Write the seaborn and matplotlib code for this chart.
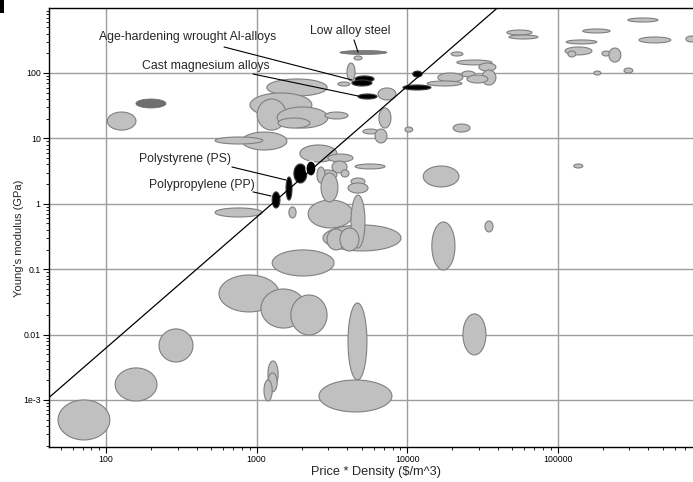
import numpy as np
import matplotlib
matplotlib.use("Agg")
import matplotlib.pyplot as plt
import matplotlib.ticker as mticker
from matplotlib.patches import Rectangle
import seaborn as sns

# property ranges of each material family
# price * density in $/m^3, Young's modulus in GPa
price_lo = [48.0, 115, 225, 1190, 1190, 1120, 563, 1070, 1690, 1270,
            4050, 2600, 23500, 14600, 12800, 32900, 128000,
            158, 102, 1170, 905, 1010, 1370, 1390, 2850, 801, 530,
            3990, 3470, 3580, 4440, 6410,
            19600, 21400, 30000, 31400, 23100, 25000, 16000, 13600,
            46000, 47500, 293000, 147000, 114000, 112000, 117000, 197000,
            219000, 347000, 711000, 174000, 276000,
            6500, 5090, 6120, 9680, 20200, 530, 1640,
            2200, 2760, 2940, 4240, 3580,
            1940, 2980, 3170, 4510, 3640, 2560, 2520, 2680, 4240, 4050,
            4510, 4300, 4720, 10900, 9390,
            1270, 1570, 1770, 2130]
price_hi = [106, 218, 378, 1390, 1370, 1270, 1410, 2130, 2940, 3270,
            5410, 7930, 33400, 20800, 22100, 37200, 147000,
            250, 158, 2940, 2330, 1570, 2980, 2260, 4050, 1590, 1100,
            4510, 4170, 7350, 5020, 8430,
            23500, 36600, 38900, 38900, 28200, 34400, 23500, 23100,
            67500, 74000, 464000, 223000, 182000, 169000, 132000, 223000,
            263000, 565000, 855000, 194000, 316000,
            7810, 6410, 7350, 10900, 26200, 1090, 1830,
            4370, 9110, 3870, 5250, 4790,
            3420, 4370, 3990, 7130, 4110, 3420, 2850, 3470, 5250, 5500,
            6030, 5840, 6310, 12600, 14400,
            1430, 1720, 2160, 2480]
modulus_lo = [2.45e-4, 9.65e-4, 3.81e-3, 1.58e-3, 1.33e-3, 9.65e-4, 0.0222, 0.0126, 9.86e-3, 0.0787,
              2.02e-3, 6.56e-4, 4.88e-3, 0.0972, 1.81, 0.371, 3.53,
              29.2, 13.4, 44.5, 21.3, 13.4, 14.4, 14.4, 19.8, 6.65, 8.21,
              75.5, 63.3, 192, 158, 38.7,
              182, 133, 107, 65.5, 86.9, 70.3, 72.8, 63.3,
              381, 331, 602, 409, 278, 189, 176, 182,
              147, 288, 298, 93.2, 100,
              14.4, 11.7, 8.51, 12.5, 12.5, 0.628, 0.607,
              0.427, 0.190, 0.197, 0.211, 0.190,
              4.36, 4.36, 2.96, 3.41, 2.57, 2.31, 2.08, 1.07, 1.94, 1.46,
              72.8, 63.3, 40.0, 86.9, 55.0,
              0.863, 1.14, 2.08, 2.66]
modulus_hi = [1.0e-3, 3.09e-3, 0.0122, 3.95e-3, 2.59e-3, 2.02e-3, 0.0815, 0.0498, 0.0403, 0.197,
              0.0304, 2.02e-3, 0.0207, 0.527, 3.78, 0.546, 4.06,
              40.0, 25.3, 81.0, 49.5, 40.0, 30.2, 20.5, 25.3, 12.5, 10.5,
              142, 72.8, 221, 182, 59.0,
              210, 158, 142, 111, 107, 93.2, 100, 75.5,
              454, 381, 693, 471, 320, 250, 217, 217,
              241, 355, 368, 107, 119,
              29.2, 13.9, 13.9, 14.9, 16.6, 0.863, 0.894,
              1.14, 0.474, 0.412, 1.36, 0.427,
              7.93, 5.77, 4.51, 4.06, 3.29, 3.29, 3.65, 2.96, 2.48, 2.08,
              90.0, 78.2, 47.7, 107, 65.5,
              1.52, 2.57, 4.06, 4.51]
group = (['other'] * 17
         + ['dark'] + ['other'] * 9
         + ['other', 'other', 'steel', 'other', 'other']
         + ['other'] * 8
         + ['other'] * 13
         + ['other'] * 7
         + ['other'] * 5
         + ['other'] * 10
         + ['selected'] * 5
         + ['selected'] * 3 + ['selected_w'])

# performance index guide line: E = c * (price*density)^2
guide_x = np.array([30.0, 1.0e5])
guide_c = 6.24e-7

x_ticks = [100, 1000, 10000, 100000]
x_tick_labels = ['100', '1000', '10000', '100000']
y_ticks = [1e-3, 0.01, 0.1, 1, 10, 100]
y_tick_labels = ['1e-3', '0.01', '0.1', '1', '10', '100']

styles = {
    'other': dict(facecolor='#c0c0c0', edgecolor='#7f7f7f', lw=0.8),
    'dark': dict(facecolor='#6e6e6e', edgecolor='#6e6e6e', lw=0.6),
    'steel': dict(facecolor='#7c7c7c', edgecolor='#6a6a6a', lw=0.5),
    'selected': dict(facecolor='#000000', edgecolor='#3a3a3a', lw=0.8),
    'selected_w': dict(facecolor='#000000', edgecolor='#ffffff', lw=0.9),
}

sns.set_style('ticks')
plt.rcParams['font.family'] = ['Liberation Sans', 'DejaVu Sans']

fig = plt.figure(figsize=(6.93, 4.82), dpi=100)
ax = fig.add_axes([49 / 693, 35 / 482, 644 / 693, 439 / 482])
ax.set_xscale('log')
ax.set_yscale('log')

t = np.linspace(0, 2 * np.pi, 120)
for xl, xh, yl, yh, g in zip(price_lo, price_hi, modulus_lo, modulus_hi, group):
    cx = (np.log10(xl) + np.log10(xh)) / 2
    rx = (np.log10(xh) - np.log10(xl)) / 2
    cy = (np.log10(yl) + np.log10(yh)) / 2
    ry = (np.log10(yh) - np.log10(yl)) / 2
    ax.fill(10 ** (cx + rx * np.cos(t)), 10 ** (cy + ry * np.sin(t)), zorder=2, **styles[g])

sns.lineplot(x=guide_x, y=guide_c * guide_x ** 2, color='black', lw=0.9, ax=ax, zorder=4)

# labels with leader lines
labels = [
    ("Age-hardening wrought Al-alloys", (350, 349), (608, 250), (4300, 78.2)),
    ("Cast magnesium alloys", (461, 128), (947, 96.5), (4720, 44.5)),
    ("Low alloy steel", (4206, 439), (4440, 320), (4720, 209.5)),
    ("Polystyrene (PS)", (337, 4.76), (687, 3.65), (1570, 2.31)),
    ("Polypropylene (PP)", (434, 1.97), (947, 1.52), (1247, 1.316)),
]
for txt, pos, p0, p1 in labels:
    ax.text(pos[0], pos[1], txt, ha='center', va='center', fontsize=8.8, zorder=5)
    ax.plot([p0[0], p1[0]], [p0[1], p1[1]], color='black', lw=0.8, zorder=5)

ax.set_xlim(41.8, 7.93e5)
ax.set_ylim(1.91e-4, 986)

ax.xaxis.set_major_locator(mticker.FixedLocator(x_ticks))
ax.xaxis.set_major_formatter(mticker.FixedFormatter(x_tick_labels))
ax.yaxis.set_major_locator(mticker.FixedLocator(y_ticks))
ax.yaxis.set_major_formatter(mticker.FixedFormatter(y_tick_labels))
for axis in (ax.xaxis, ax.yaxis):
    axis.set_minor_locator(mticker.LogLocator(base=10, subs=np.arange(2, 10), numticks=30))
    axis.set_minor_formatter(mticker.NullFormatter())

ax.tick_params(which='major', direction='out', length=4, width=0.8, labelsize=6.3, pad=2, colors='black')
ax.tick_params(which='minor', direction='out', length=2.5, width=0.6, colors='black')

ax.grid(True, which='major', color='#9e9e9e', lw=1.0)
ax.set_axisbelow(True)

for side in ('left', 'bottom', 'top'):
    ax.spines[side].set_color('black')
    ax.spines[side].set_linewidth(1.0)
ax.spines['right'].set_visible(False)

ax.set_xlabel('Price * Density ($/m^3)', fontsize=9.2)
ax.set_ylabel("Young's modulus (GPa)", fontsize=8)
ax.xaxis.set_label_coords(0.507, -0.057)
ax.xaxis.label.set_va('center')
ax.yaxis.set_label_coords(-0.047, 0.476)
ax.yaxis.label.set_va('center')

fig.add_artist(Rectangle((0, 1 - 13 / 482), 4 / 693, 13 / 482, transform=fig.transFigure,
                         facecolor='black', edgecolor='none'))

fig.savefig('out.png', dpi=100)
